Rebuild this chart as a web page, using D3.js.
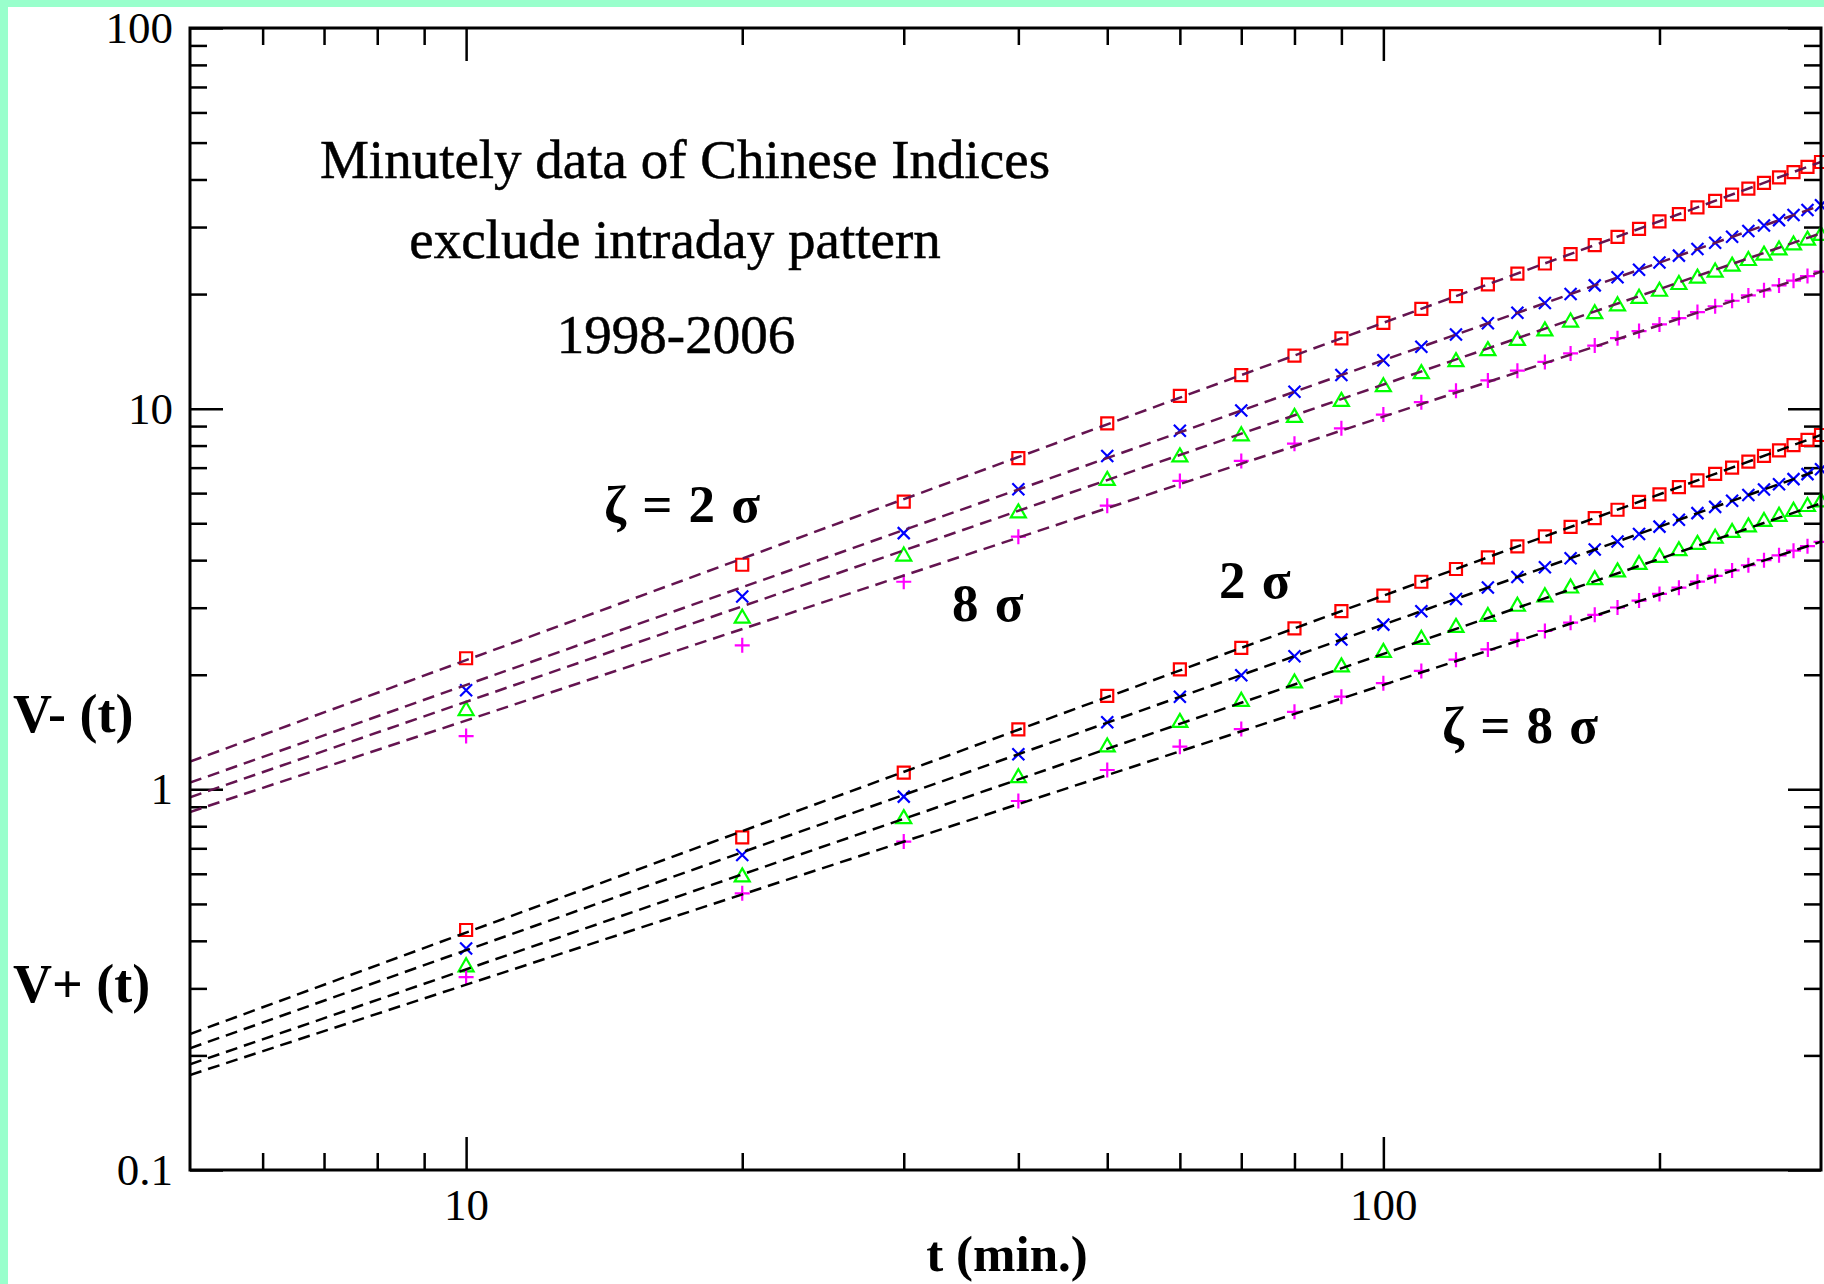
<!DOCTYPE html>
<html>
<head>
<meta charset="utf-8">
<script src="https://cdn.jsdelivr.net/npm/d3@7"></script>
<style>
  html, body { margin: 0; padding: 0; background: #ffffff; }
  svg { display: block; }
  text { font-family: "Liberation Serif", "Times New Roman", serif; fill: #000; }
</style>
</head>
<body>
<svg id="chart"></svg>
<script>
// Time lags (minutes) at which V-(t) and V+(t) are sampled
const tValues = [10, 20, 30, 40, 50, 60, 70, 80, 90, 100, 110, 120, 130, 140, 150,
                 160, 170, 180, 190, 200, 210, 220, 230, 240, 250, 260, 270, 280, 290, 300];

// V-(t), thresholds zeta = 2, 4, 6, 8 sigma
const vMinusZ2 = [2.21, 3.89, 5.70, 7.41, 9.15, 10.80, 12.25, 13.79, 15.30, 16.80, 18.28, 19.75, 21.20, 22.63, 24.06,
                  25.48, 26.88, 28.28, 29.67, 31.05, 32.42, 33.79, 35.14, 36.49, 37.84, 39.17, 40.50, 41.83, 43.15, 44.46];
const vMinusZ4 = [1.82, 3.21, 4.71, 6.14, 7.51, 8.75, 9.89, 11.08, 12.26, 13.41, 14.54, 15.66, 16.77, 17.86, 18.95,
                  20.02, 21.08, 22.13, 23.18, 24.22, 25.24, 26.27, 27.28, 28.29, 29.29, 30.29, 31.28, 32.27, 33.24, 34.21];
const vMinusZ6 = [1.63, 2.85, 4.15, 5.39, 6.56, 7.56, 8.59, 9.60, 10.58, 11.56, 12.51, 13.45, 14.38, 15.30, 16.20,
                  17.09, 17.98, 18.86, 19.73, 20.59, 21.45, 22.29, 23.13, 23.97, 24.80, 25.62, 26.44, 27.25, 28.05, 28.86];
const vMinusZ8 = [1.38, 2.39, 3.51, 4.61, 5.56, 6.46, 7.29, 8.09, 8.88, 9.65, 10.40, 11.14, 11.86, 12.58, 13.27,
                  13.97, 14.65, 15.32, 15.99, 16.65, 17.30, 17.94, 18.58, 19.21, 19.84, 20.46, 21.08, 21.69, 22.30, 22.90];

// V+(t), thresholds zeta = 2, 4, 6, 8 sigma
const vPlusZ2 = [0.427, 0.748, 1.106, 1.438, 1.759, 2.067, 2.352, 2.647, 2.938, 3.226, 3.510, 3.791, 4.069, 4.345, 4.617,
                 4.889, 5.158, 5.426, 5.692, 5.957, 6.219, 6.481, 6.741, 6.998, 7.256, 7.512, 7.767, 8.021, 8.275, 8.527];
const vPlusZ4 = [0.382, 0.672, 0.957, 1.236, 1.500, 1.751, 1.995, 2.237, 2.475, 2.708, 2.938, 3.164, 3.389, 3.611, 3.830,
                 4.048, 4.264, 4.477, 4.688, 4.899, 5.108, 5.316, 5.521, 5.726, 5.929, 6.131, 6.330, 6.531, 6.730, 6.928];
const vPlusZ6 = [0.346, 0.596, 0.848, 1.086, 1.308, 1.518, 1.724, 1.926, 2.123, 2.317, 2.508, 2.696, 2.880, 3.063, 3.244,
                 3.421, 3.597, 3.772, 3.945, 4.117, 4.287, 4.455, 4.622, 4.787, 4.952, 5.116, 5.279, 5.440, 5.601, 5.760];
const vPlusZ8 = [0.321, 0.533, 0.729, 0.932, 1.124, 1.294, 1.440, 1.598, 1.751, 1.901, 2.047, 2.191, 2.331, 2.470, 2.606,
                 2.741, 2.873, 3.004, 3.133, 3.261, 3.387, 3.512, 3.636, 3.758, 3.879, 3.999, 4.119, 4.236, 4.353, 4.470];

// Power-law fits: value at the ends of the time range
const fitT = [5, 300];
const fitMinus = [[1.182, 44.5], [1.041, 34.2], [0.953, 28.9], [0.872, 22.9]];
const fitPlus  = [[0.2277, 8.53], [0.2088, 6.93], [0.1895, 5.64], [0.1777, 4.47]];

// Axis ticks and labels
const xMajor = [10, 100];
const xMajorLabels = ["10", "100"];
const xMinor = [6, 7, 8, 9, 20, 30, 40, 50, 60, 70, 80, 90, 200];
const yMajor = [0.1, 1, 10, 100];
const yMajorLabels = ["0.1", "1", "10", "100"];
const yMinor = [0.2, 0.3, 0.4, 0.5, 0.6, 0.7, 0.8, 0.9, 2, 3, 4, 5, 6, 7, 8, 9, 20, 30, 40, 50, 60, 70, 80, 90];

const W = 1824, H = 1284;
const plot = { left: 190, right: 1821, top: 28, bottom: 1170 };

const svg = d3.select("#chart").attr("width", W).attr("height", H);

// page frame
svg.append("rect").attr("width", W).attr("height", H).attr("fill", "#99ffcc");
svg.append("rect").attr("x", 8).attr("y", 7).attr("width", W - 8).attr("height", H - 7).attr("fill", "#ffffff");

const x = d3.scaleLog().domain([5, 300]).range([plot.left, plot.right]);
const y = d3.scaleLog().domain([0.1, 100]).range([plot.bottom, plot.top]);

svg.append("defs").append("clipPath").attr("id", "plotClip")
  .append("rect")
  .attr("x", plot.left).attr("y", plot.top)
  .attr("width", plot.right - plot.left).attr("height", plot.bottom - plot.top);

// ---- axes (ticks point inward on all four sides) ----
const tickW = 2.5;
function styleAxis(g) {
  g.select(".domain").remove();
  g.selectAll(".tick line").attr("stroke", "#000").attr("stroke-width", tickW);
}
function addAxis(axis, tx, ty, withLabels) {
  const g = svg.append("g").attr("transform", `translate(${tx},${ty})`).call(axis);
  styleAxis(g);
  g.selectAll(".tick text")
    .attr("font-family", "Liberation Serif, Times New Roman, serif")
    .attr("font-size", 45)
    .attr("fill", "#000");
  if (!withLabels) g.selectAll(".tick text").remove();
  return g;
}

addAxis(d3.axisBottom(x).tickValues(xMajor).tickSize(-33).tickPadding(18)
          .tickFormat((d, i) => xMajorLabels[i]), 0, plot.bottom, true);
addAxis(d3.axisBottom(x).tickValues(xMinor).tickSize(-17).tickFormat(""), 0, plot.bottom, false);
addAxis(d3.axisTop(x).tickValues(xMajor).tickSize(-33).tickFormat(""), 0, plot.top, false);
addAxis(d3.axisTop(x).tickValues(xMinor).tickSize(-17).tickFormat(""), 0, plot.top, false);

addAxis(d3.axisLeft(y).tickValues(yMajor).tickSize(-33).tickPadding(17)
          .tickFormat((d, i) => yMajorLabels[i]), plot.left, 0, true);
addAxis(d3.axisLeft(y).tickValues(yMinor).tickSize(-17).tickFormat(""), plot.left, 0, false);
addAxis(d3.axisRight(y).tickValues(yMajor).tickSize(-33).tickFormat(""), plot.right, 0, false);
addAxis(d3.axisRight(y).tickValues(yMinor).tickSize(-17).tickFormat(""), plot.right, 0, false);

// ---- markers ----
const markerPaths = {
  square: "M-6,-6H6V6H-6Z",
  times: "M-6,-6L6,6M-6,6L6,-6",
  triangle: "M0,-6.5L7.5,6.5H-7.5Z",
  plus: "M-7.5,0H7.5M0,-7.5V7.5"
};
const seriesStyle = [
  { shape: "square", color: "#ff0000" },
  { shape: "times", color: "#0000ff" },
  { shape: "triangle", color: "#00ff00" },
  { shape: "plus", color: "#ff00ff" }
];

const groups = [
  { values: [vMinusZ2, vMinusZ4, vMinusZ6, vMinusZ8], fits: fitMinus, lineColor: "#641450" },
  { values: [vPlusZ2, vPlusZ4, vPlusZ6, vPlusZ8], fits: fitPlus, lineColor: "#000000" }
];

const markLayer = svg.append("g");
const lineLayer = svg.append("g").attr("clip-path", "url(#plotClip)");
const lineGen = d3.line().x(d => x(d[0])).y(d => y(d[1]));

groups.forEach(grp => {
  grp.values.forEach((vals, si) => {
    const st = seriesStyle[si];
    markLayer.append("g").selectAll("path")
      .data(tValues.map((t, i) => [t, vals[i]]))
      .join("path")
      .attr("d", markerPaths[st.shape])
      .attr("transform", d => `translate(${x(d[0])},${y(d[1])})`)
      .attr("fill", "none")
      .attr("stroke", st.color)
      .attr("stroke-width", 2.2);
  });
  grp.fits.forEach(f => {
    lineLayer.append("path")
      .datum(fitT.map((t, i) => [t, f[i]]))
      .attr("d", lineGen)
      .attr("fill", "none")
      .attr("stroke", grp.lineColor)
      .attr("stroke-width", 2.5)
      .attr("stroke-dasharray", "12,7");
  });
});

// frame
svg.append("rect")
  .attr("x", plot.left).attr("y", plot.top)
  .attr("width", plot.right - plot.left).attr("height", plot.bottom - plot.top)
  .attr("fill", "none").attr("stroke", "#000").attr("stroke-width", 3);

// ---- text ----
const title = [
  { text: "Minutely data of Chinese Indices", x: 685, y: 178 },
  { text: "exclude intraday pattern", x: 675, y: 258 },
  { text: "1998-2006", x: 676, y: 353 }
];
svg.append("g").selectAll("text").data(title).join("text")
  .attr("x", d => d.x).attr("y", d => d.y)
  .attr("text-anchor", "middle").attr("font-size", 55)
  .attr("stroke", "#000").attr("stroke-width", 0.5)
  .text(d => d.text);

const notes = [
  { text: "ζ = 2 σ", x: 604, y: 522 },
  { text: "8 σ", x: 952, y: 621 },
  { text: "2 σ", x: 1219, y: 598 },
  { text: "ζ = 8 σ", x: 1442, y: 743 }
];
svg.append("g").selectAll("text").data(notes).join("text")
  .attr("x", d => d.x).attr("y", d => d.y)
  .attr("font-size", 53).attr("font-weight", "bold")
  .attr("word-spacing", 3)
  .text(d => d.text);

const yNames = [
  { text: "V- (t)", x: 13, y: 732 },
  { text: "V+ (t)", x: 13, y: 1002 }
];
svg.append("g").selectAll("text").data(yNames).join("text")
  .attr("x", d => d.x).attr("y", d => d.y)
  .attr("font-size", 54).attr("font-weight", "bold")
  .text(d => d.text);

svg.append("text")
  .attr("x", 1007).attr("y", 1271)
  .attr("text-anchor", "middle")
  .attr("font-size", 51).attr("font-weight", "bold")
  .text("t (min.)");
</script>
</body>
</html>
